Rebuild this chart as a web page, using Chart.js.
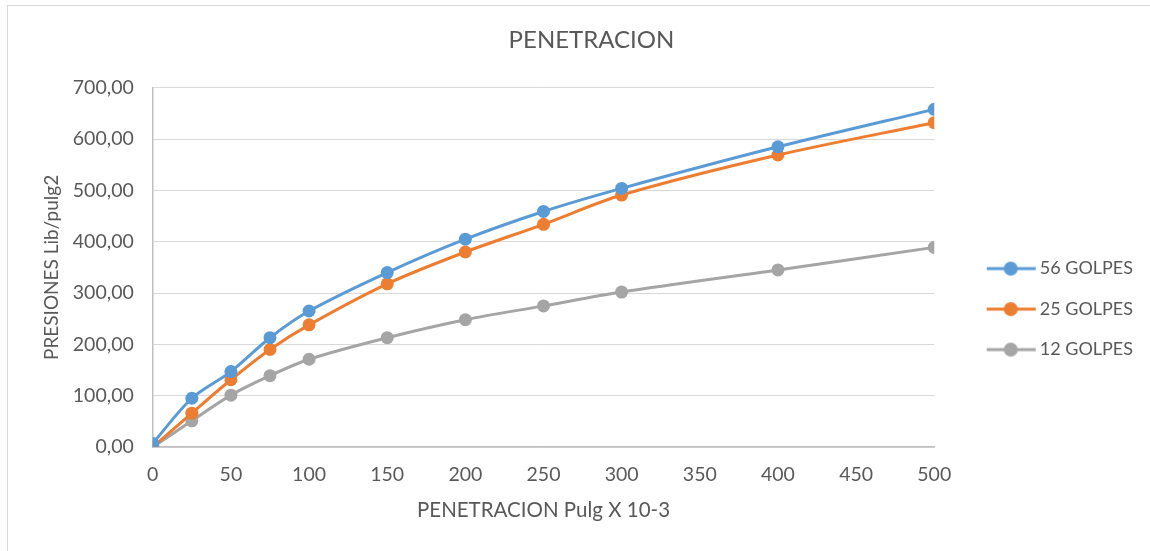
<!DOCTYPE html>
<html lang="es">
<head>
    <meta charset="UTF-8">
    <title>Penetracion</title>
    <script src="https://cdn.jsdelivr.net/npm/chart.js"></script>
    <style>
        body {
            margin: 0;
            background: #ffffff;
            overflow: hidden;
        }
        .chart-box {
            position: absolute;
            left: 7px;
            top: 5px;
            width: 1143px;
            height: 546px;
            border-left: 1px solid #d9d9d9;
            border-top: 1px solid #d9d9d9;
            background: #ffffff;
        }
    </style>
</head>
<body>
    <div class="chart-box">
        <canvas id="penetracionChart" width="1143" height="546"></canvas>
    </div>

    <script>
        // penetracion (pulg x 10-3) y presiones (lib/pulg2) por numero de golpes
        const penetracion = [0, 25, 50, 75, 100, 150, 200, 250, 300, 400, 500];
        const golpes56 = [7, 95, 147, 213, 265, 340, 405, 459, 504, 585, 658];
        const golpes25 = [0, 66, 131, 190, 238, 318, 380, 434, 491, 569, 632];
        const golpes12 = [0, 51, 101, 139, 171, 213, 248, 275, 302, 345, 389];
        const seriesNames = ["56 GOLPES", "25 GOLPES", "12 GOLPES"];
        const colors = ["#5b9bd5", "#ed7d31", "#a5a5a5"];

        const textColor = "#595959";
        const fontFamily = "Lato, 'Open Sans', sans-serif";

        // legend marker: short line with a dot, drawn on the right half of a wider canvas
        const markerBox = 74;
        function legendMarker(color) {
            const c = document.createElement("canvas");
            c.width = markerBox * 2;
            c.height = 16;
            const g = c.getContext("2d");
            g.strokeStyle = color;
            g.lineWidth = 3;
            g.beginPath();
            g.moveTo(67, 8);
            g.lineTo(116, 8);
            g.stroke();
            g.fillStyle = color;
            g.beginPath();
            g.arc(91, 8, 7, 0, Math.PI * 2);
            g.fill();
            return c;
        }

        function toPoints(ys) {
            return penetracion.map((x, i) => ({ x: x, y: ys[i] }));
        }

        const allSeries = [golpes56, golpes25, golpes12];
        const datasets = allSeries.map((ys, i) => ({
            label: seriesNames[i],
            data: toPoints(ys),
            borderColor: colors[i],
            backgroundColor: colors[i],
            borderWidth: 3,
            pointRadius: 6.5,
            pointHoverRadius: 6.5,
            pointBorderWidth: 0,
            pointStyle: "circle",
            tension: 0.3,
            order: i
        }));

        const ctx = document.getElementById("penetracionChart").getContext("2d");
        new Chart(ctx, {
            type: "line",
            data: { datasets: datasets },
            options: {
                responsive: false,
                animation: false,
                layout: {
                    padding: { left: 32, right: 8, top: 0, bottom: 29 }
                },
                plugins: {
                    title: {
                        display: true,
                        text: "PENETRACION",
                        color: textColor,
                        font: { family: fontFamily, size: 24, weight: "normal" },
                        padding: { top: 20, bottom: 33 }
                    },
                    legend: {
                        position: "right",
                        // empty title only pushes the legend items down a little
                        title: {
                            display: true,
                            text: " ",
                            color: "rgba(0,0,0,0)",
                            font: { size: 1 },
                            padding: { top: 44, bottom: 44 }
                        },
                        labels: {
                            color: textColor,
                            font: { family: fontFamily, size: 18 },
                            usePointStyle: true,
                            pointStyleWidth: markerBox,
                            padding: 22.5,
                            generateLabels: (chart) => {
                                const items = Chart.defaults.plugins.legend.labels.generateLabels(chart);
                                items.forEach((it, i) => {
                                    it.pointStyle = legendMarker(colors[i]);
                                });
                                return items;
                            }
                        }
                    },
                    tooltip: { enabled: false }
                },
                scales: {
                    x: {
                        type: "linear",
                        min: 0,
                        max: 500,
                        ticks: {
                            stepSize: 50,
                            color: textColor,
                            font: { family: fontFamily, size: 19.5 },
                            padding: 16
                        },
                        grid: { display: false, drawTicks: false },
                        border: { color: "#bfbfbf", width: 1.5 },
                        title: {
                            display: true,
                            text: "PENETRACION Pulg X 10-3",
                            color: textColor,
                            font: { family: fontFamily, size: 20.5 },
                            padding: { top: -4, bottom: 0 }
                        }
                    },
                    y: {
                        min: 0,
                        max: 700,
                        ticks: {
                            stepSize: 100,
                            color: textColor,
                            font: { family: fontFamily, size: 19.5 },
                            padding: 19,
                            callback: (v) => v.toFixed(2).replace(".", ",")
                        },
                        grid: { color: "#d9d9d9", lineWidth: 1, drawTicks: false },
                        border: { color: "#bfbfbf", width: 1.5 },
                        title: {
                            display: true,
                            text: "PRESIONES Lib/pulg2",
                            color: textColor,
                            font: { family: fontFamily, size: 19 },
                            padding: { top: 0, bottom: -9 }
                        }
                    }
                }
            }
        });
    </script>
</body>
</html>
